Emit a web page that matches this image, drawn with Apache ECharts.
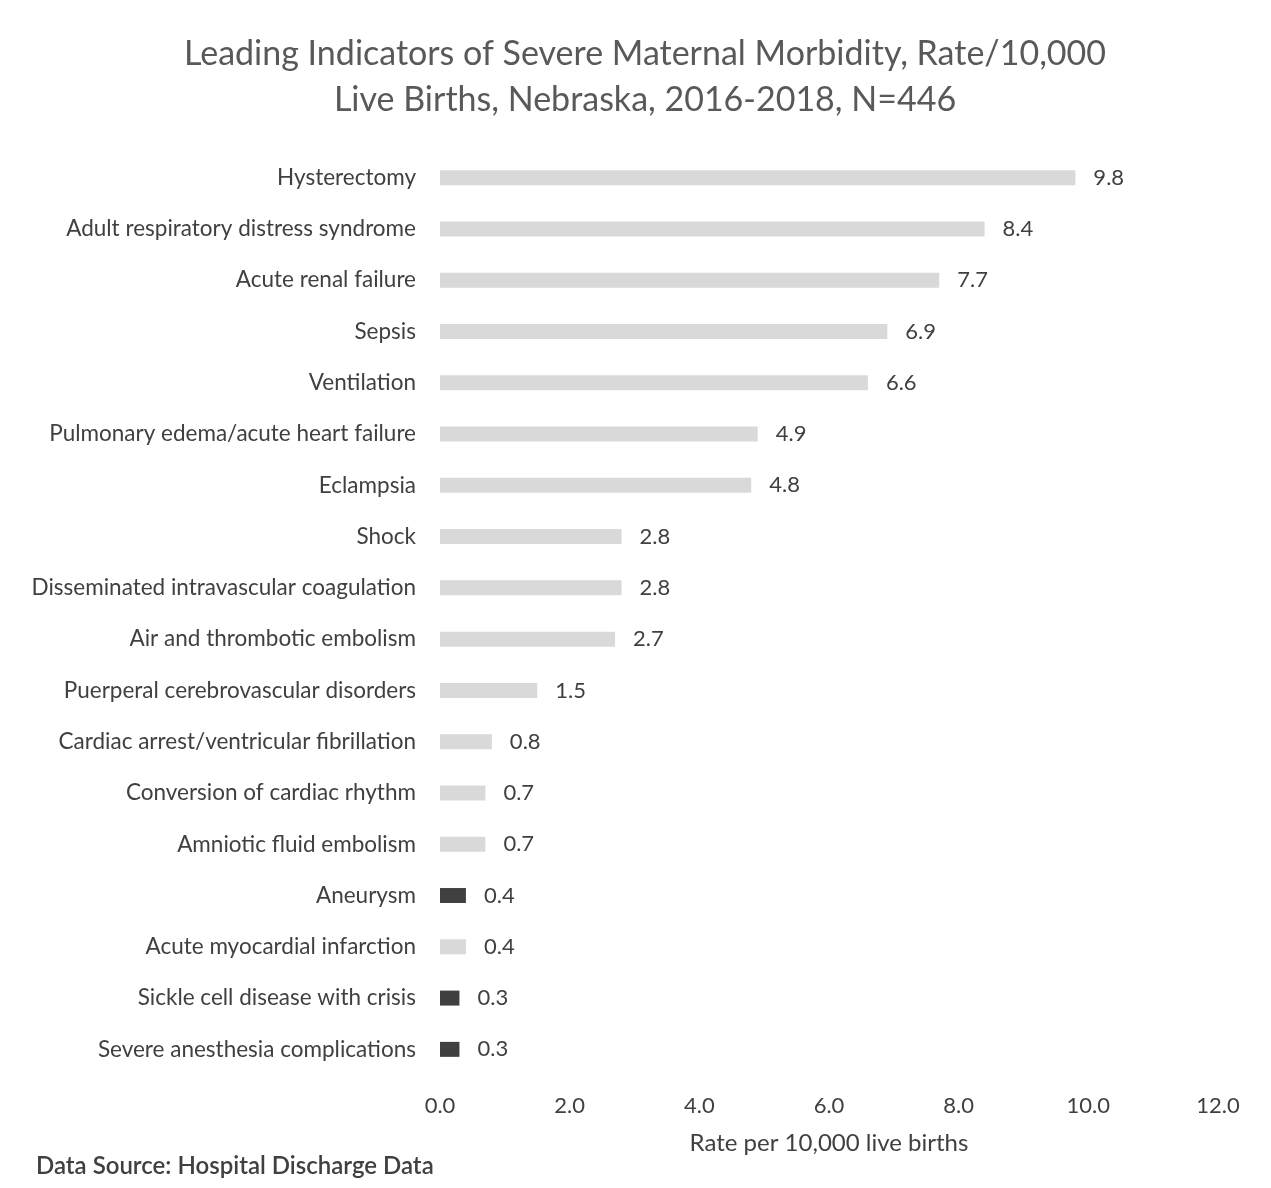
<!DOCTYPE html>
<html lang="en">
<head>
    <meta charset="UTF-8">
    <title>Severe Maternal Morbidity</title>
    <script type="text/javascript" src="https://cdn.jsdelivr.net/npm/echarts@6/dist/echarts.min.js"></script>
    <style>
        html, body { margin: 0; padding: 0; background: #fff; }
        #chart1 { width: 1271px; height: 1188px; }
    </style>
</head>
<body>
<div id="chart1"></div>
</body>
<script type="text/javascript">
    // categories, top to bottom
    var categories = [
        'Hysterectomy',
        'Adult respiratory distress syndrome',
        'Acute renal failure',
        'Sepsis',
        'Ventilation',
        'Pulmonary edema/acute heart failure',
        'Eclampsia',
        'Shock',
        'Disseminated intravascular coagulation',
        'Air and thrombotic embolism',
        'Puerperal cerebrovascular disorders',
        'Cardiac arrest/ventricular fibrillation',
        'Conversion of cardiac rhythm',
        'Amniotic fluid embolism',
        'Aneurysm',
        'Acute myocardial infarction',
        'Sickle cell disease with crisis',
        'Severe anesthesia complications'
    ];
    var rates = [9.8, 8.4, 7.7, 6.9, 6.6, 4.9, 4.8, 2.8, 2.8, 2.7, 1.5, 0.8, 0.7, 0.7, 0.4, 0.4, 0.3, 0.3];
    // categories drawn in dark grey
    var darkBars = ['Aneurysm', 'Sickle cell disease with crisis', 'Severe anesthesia complications'];

    var FONT = 'Lato, "Noto Sans", sans-serif';

    var seriesData = [];
    for (var i = 0; i < categories.length; i++) {
        seriesData.push({
            value: rates[i],
            itemStyle: {color: darkBars.indexOf(categories[i]) >= 0 ? '#404040' : '#d9d9d9'}
        });
    }

    var myChart = echarts.init(document.getElementById('chart1'));
    var option = {
        backgroundColor: '#fff',
        animation: false,
        title: {
            text: 'Leading Indicators of Severe Maternal Morbidity, Rate/10,000\nLive Births, Nebraska, 2016-2018, N=446',
            left: 640,
            textAlign: 'center',
            top: 26,
            textStyle: {
                fontFamily: FONT,
                fontSize: 34,
                fontWeight: 'normal',
                color: '#595959',
                lineHeight: 46
            }
        },
        graphic: [{
            type: 'text',
            left: 36,
            top: 1154,
            style: {
                text: 'Data Source: Hospital Discharge Data',
                font: '600 24px ' + FONT,
                fill: '#404040'
            }
        }],
        grid: {
            left: 440,
            right: 53,
            top: 152,
            bottom: 113,
            containLabel: false
        },
        xAxis: {
            type: 'value',
            min: 0,
            max: 12,
            interval: 2,
            name: 'Rate per 10,000 live births',
            nameLocation: 'middle',
            nameGap: 56,
            nameTextStyle: {fontFamily: FONT, fontSize: 24, color: '#404040'},
            axisLine: {show: false},
            axisTick: {show: false},
            splitLine: {show: false},
            axisLabel: {
                margin: 20,
                fontFamily: FONT,
                fontSize: 22,
                color: '#404040',
                formatter: function (v) { return v.toFixed(1); }
            }
        },
        yAxis: {
            type: 'category',
            inverse: true,
            data: categories,
            axisLine: {show: false},
            axisTick: {show: false},
            axisLabel: {
                margin: 24,
                fontFamily: FONT,
                fontSize: 22.5,
                color: '#404040'
            }
        },
        series: [{
            type: 'bar',
            data: seriesData,
            barWidth: 15,
            label: {
                show: true,
                position: 'right',
                distance: 18,
                fontFamily: FONT,
                fontSize: 22,
                color: '#404040',
                formatter: function (p) { return p.value.toFixed(1); }
            }
        }]
    };
    myChart.setOption(option);
</script>
</html>
